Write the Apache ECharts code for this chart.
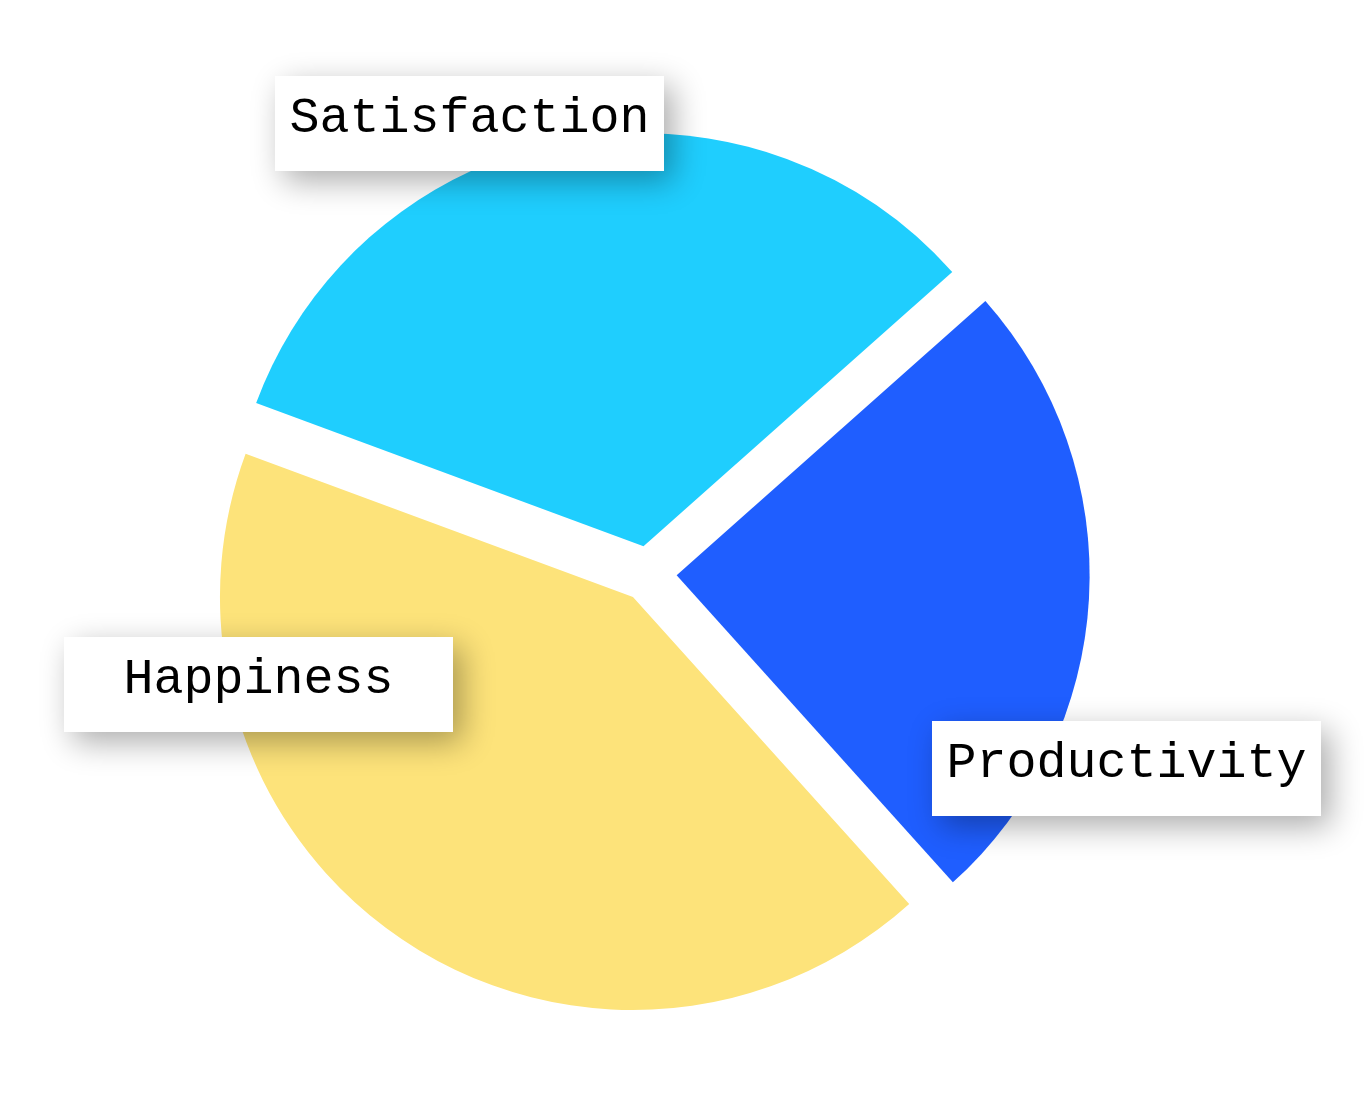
<!DOCTYPE html>
<html>
<head>
<meta charset="utf-8">
<script src="https://cdn.jsdelivr.net/npm/echarts@6/dist/echarts.min.js"></script>
<style>
html,body{margin:0;padding:0;background:#fff;}
#chart{width:1372px;height:1095px;}
</style>
</head>
<body>
<div id="chart"></div>
<script>
const categories = ['Satisfaction', 'Productivity', 'Happiness'];
const values = [32.8, 24.9, 42.3];
const colors = ['#1FCEFE', '#1F5EFF', '#FDE37A'];

const chart = echarts.init(document.getElementById('chart'));

// label boxes (top-left corners), one per category
const boxPos = {
  'Satisfaction': [275, 76],
  'Productivity': [932, 721],
  'Happiness':    [64, 637]
};
const BOX_W = 389, BOX_H = 95;

const labelGraphics = [];
categories.forEach(name => {
  labelGraphics.push({
    type: 'rect',
    x: boxPos[name][0],
    y: boxPos[name][1],
    z: 100,
    zlevel: 1,
    shape: { x: 0, y: 0, width: BOX_W, height: BOX_H },
    style: {
      fill: '#fff',
      shadowColor: 'rgba(0,0,0,0.33)',
      shadowBlur: 30,
      shadowOffsetX: 9,
      shadowOffsetY: 10
    }
  });
  labelGraphics.push({
    type: 'text',
    x: boxPos[name][0] + BOX_W / 2,
    y: boxPos[name][1] + 43,
    z: 101,
    zlevel: 1,
    style: {
      text: name,
      font: '50px "Liberation Mono"',
      fill: '#000',
      align: 'center',
      verticalAlign: 'middle'
    }
  });
});

chart.setOption({
  animation: false,
  graphic: { elements: labelGraphics },
  series: [{
    type: 'pie',
    center: ['47.28%', '52.4%'],
    radius: [0, 413],
    startAngle: 159.7,
    clockwise: true,
    selectedMode: 'multiple',
    selectedOffset: 28,
    emphasis: { disabled: true },
    label: { show: false },
    labelLine: { show: false },
    data: categories.map((c, i) => ({
      name: c,
      value: values[i],
      selected: true,
      itemStyle: { color: colors[i] }
    }))
  }]
});
</script>
</body>
</html>
